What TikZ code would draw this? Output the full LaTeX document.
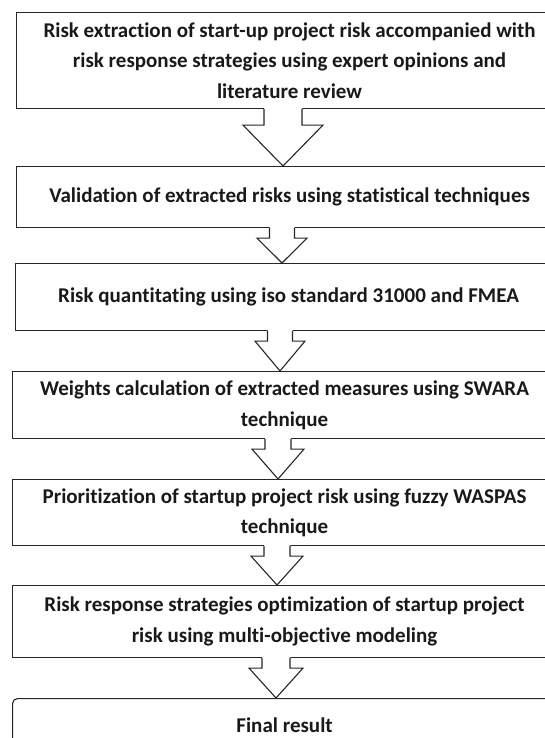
\documentclass[tikz,border=0pt]{standalone}
\usepackage{fontspec}
\setmainfont{Carlito}[Ligatures={NoCommon}]
\usetikzlibrary{positioning}

\tikzset{
  stagebox/.style={draw=black!85, line width=1.1pt, anchor=north west,
    inner sep=0pt, align=center, text=black!90,
    font=\bfseries\fontsize{21}{30.5}\selectfont},
  arrowline/.style={draw=black!85, line width=1.1pt, line join=miter},
}

% hollow block arrow: #1 upper box, #2 lower box, #3 axis, #4 shaft half width,
% #5 head half width, #6 shaft length
\newcommand{\blockarrow}[6]{%
  \coordinate (#1-tail) at (#1.south -| #3);
  \fill[white] ([xshift=-#4 pt, yshift=1pt]#1-tail) -- ([xshift=-#4 pt, yshift=-#6 pt]#1-tail)
    -- ([xshift=-#5 pt, yshift=-#6 pt]#1-tail) -- (#2.north -| #3)
    -- ([xshift=#5 pt, yshift=-#6 pt]#1-tail) -- ([xshift=#4 pt, yshift=-#6 pt]#1-tail)
    -- ([xshift=#4 pt, yshift=1pt]#1-tail) -- cycle;
  \draw[arrowline] ([xshift=-#4 pt]#1-tail) -- ([xshift=-#4 pt, yshift=-#6 pt]#1-tail)
    -- ([xshift=-#5 pt, yshift=-#6 pt]#1-tail) -- (#2.north -| #3)
    -- ([xshift=#5 pt, yshift=-#6 pt]#1-tail) -- ([xshift=#4 pt, yshift=-#6 pt]#1-tail)
    -- ([xshift=#4 pt]#1-tail);
}

\begin{document}
\begin{tikzpicture}[x=1pt, y=-1pt]
\useasboundingbox (0,0) rectangle (545,738);
\clip (0,0) rectangle (545,738);

% stages
\node[stagebox, minimum width=546pt, minimum height=96pt] (extract) at (16,12)
  {Risk extraction of start-up project risk accompanied with\\
   risk response strategies using expert opinions and\\
   literature review};
\node[stagebox, minimum width=546pt, minimum height=61pt] (validate) at (16,166)
  {Validation of extracted risks using statistical techniques};
\node[stagebox, minimum width=546pt, minimum height=67pt] (quantify) at (15,263)
  {Risk quantitating using iso standard 31000 and FMEA};
\node[stagebox, minimum width=544pt, minimum height=67pt] (weights) at (12,371)
  {Weights calculation of extracted measures using SWARA\\technique};
\node[stagebox, minimum width=544pt, minimum height=66pt] (prioritize) at (12,479)
  {Prioritization of startup project risk using fuzzy WASPAS\\technique};
\node[stagebox, minimum width=544pt, minimum height=72pt] (optimize) at (12,585)
  {Risk response strategies optimization of startup project\\risk using multi-objective modeling};
\node[stagebox, rounded corners=5pt, minimum width=544pt, minimum height=54pt] (final) at (12,698)
  {Final result};

% arrow axes
\coordinate (ax1) at (283,0);
\coordinate (ax2) at (282,0);
\coordinate (ax3) at (280,0);
\coordinate (ax4) at (278,0);
\coordinate (ax5) at (277,0);
\coordinate (ax6) at (276,0);

\blockarrow{extract}{validate}{ax1}{19}{40}{16}
\blockarrow{validate}{quantify}{ax2}{12.5}{25}{10}
\blockarrow{quantify}{weights}{ax3}{12.5}{25}{10}
\blockarrow{weights}{prioritize}{ax4}{13}{26}{10}
\blockarrow{prioritize}{optimize}{ax5}{13}{26}{10}
\blockarrow{optimize}{final}{ax6}{14}{27}{10}
\end{tikzpicture}
\end{document}
